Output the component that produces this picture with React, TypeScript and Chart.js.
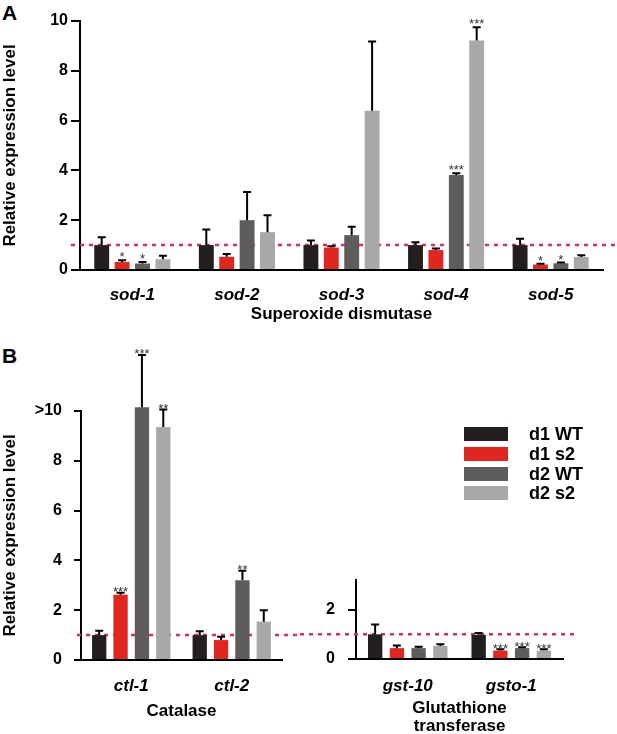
import { useEffect, useRef } from "react";
import { Chart, registerables } from "chart.js";
import type { Plugin } from "chart.js";

Chart.register(...registerables);

const FONT = '"Liberation Sans", Arial, Helvetica, sans-serif';

const seriesLabels = ["d1 WT", "d1 s2", "d2 WT", "d2 s2"];
const seriesColors = ["#231f20", "#e0261f", "#5f5c5c", "#a8a8a8"];

// A: superoxide dismutase
const sodGenes = ["sod-1", "sod-2", "sod-3", "sod-4", "sod-5"];
const sodD1WT = [1.0, 1.0, 1.0, 1.0, 1.0];
const sodD1S2 = [0.32, 0.53, 0.9, 0.8, 0.22];
const sodD2WT = [0.26, 2.0, 1.4, 3.82, 0.27];
const sodD2S2 = [0.43, 1.52, 6.4, 9.22, 0.52];
const sodErrD1WT = [0.32, 0.63, 0.18, 0.11, 0.26];
const sodErrD1S2 = [0.07, 0.11, 0.05, 0.06, 0.03];
const sodErrD2WT = [0.06, 1.13, 0.34, 0.07, 0.03];
const sodErrD2S2 = [0.14, 0.68, 2.78, 0.53, 0.07];
const sodSigD1S2 = ["*", "", "", "", "*"];
const sodSigD2WT = ["*", "", "", "***", "*"];
const sodSigD2S2 = ["", "", "", "***", ""];

// B: catalase
const ctlGenes = ["ctl-1", "ctl-2"];
const ctlD1WT = [1.0, 1.0];
const ctlD1S2 = [2.62, 0.8];
const ctlD2WT = [10.15, 3.2];
const ctlD2S2 = [9.36, 1.54];
const ctlErrD1WT = [0.17, 0.15];
const ctlErrD1S2 = [0.08, 0.13];
const ctlErrD2WT = [2.1, 0.38];
const ctlErrD2S2 = [0.7, 0.46];
const ctlSigD1S2 = ["***", ""];
const ctlSigD2WT = ["***", "**"];
const ctlSigD2S2 = ["**", ""];

// B: glutathione transferase
const gstGenes = ["gst-10", "gsto-1"];
const gstD1WT = [1.0, 0.98];
const gstD1S2 = [0.44, 0.34];
const gstD2WT = [0.44, 0.44];
const gstD2S2 = [0.53, 0.34];
const gstErrD1WT = [0.4, 0.07];
const gstErrD1S2 = [0.11, 0.05];
const gstErrD2WT = [0.06, 0.04];
const gstErrD2S2 = [0.07, 0.05];
const gstSigD1S2 = ["", "***"];
const gstSigD2WT = ["", "***"];
const gstSigD2S2 = ["", "***"];

const noSig = (n: number) => Array(n).fill("");

const errorBars = (drop: number): Plugin<"bar"> => ({
  id: "errorBars",
  afterDatasetsDraw(chart) {
    const { ctx } = chart;
    const y = chart.scales.y;
    ctx.save();
    chart.data.datasets.forEach((ds: any, i) => {
      chart.getDatasetMeta(i).data.forEach((bar: any, j) => {
        const top = y.getPixelForValue(ds.data[j] + ds.errors[j]);
        ctx.strokeStyle = "#000";
        ctx.lineWidth = 2;
        ctx.beginPath();
        ctx.moveTo(bar.x, bar.y);
        ctx.lineTo(bar.x, top);
        ctx.moveTo(bar.x - 4, top);
        ctx.lineTo(bar.x + 4, top);
        ctx.stroke();
        const s = ds.stars[j];
        if (s) {
          ctx.fillStyle = "#333";
          ctx.font = `13px ${FONT}`;
          ctx.textAlign = "center";
          ctx.textBaseline = "alphabetic";
          ctx.fillText(s, bar.x, top + drop);
        }
      });
    });
    ctx.restore();
  },
});

const refLine = (x1: number, x2: number): Plugin<"bar"> => ({
  id: "refLine",
  beforeDatasetsDraw(chart) {
    const { ctx } = chart;
    const yy = chart.scales.y.getPixelForValue(1);
    ctx.save();
    ctx.setLineDash([4, 5]);
    ctx.strokeStyle = "#e42a55";
    ctx.lineWidth = 2.5;
    ctx.beginPath();
    ctx.moveTo(x1, yy);
    ctx.lineTo(x2, yy);
    ctx.stroke();
    ctx.restore();
  },
});

type PanelProps = {
  left: number;
  top: number;
  width: number;
  height: number;
  labels: string[];
  series: number[][];
  errors: number[][];
  stars: string[][];
  yMax: number;
  yTicks: number[];
  overTen?: boolean;
  padTop: number;
  padRight: number;
  yWidth: number;
  xHeight: number;
  tickLength: number;
  tickPad: number;
  labelPad: number;
  catPct: number;
  barPct: number;
  title: string | string[];
  titlePad: number;
  yTitle: boolean;
  refFrom: number;
  refTo: number;
  starDrop: number;
};

function Panel(p: PanelProps) {
  const canvasRef = useRef<HTMLCanvasElement | null>(null);

  useEffect(() => {
    if (!canvasRef.current) return;
    const chart = new Chart(canvasRef.current, {
      type: "bar",
      data: {
        labels: p.labels,
        datasets: p.series.map((d, i) => ({
          label: seriesLabels[i],
          data: d,
          backgroundColor: seriesColors[i],
          borderWidth: 0,
          categoryPercentage: p.catPct,
          barPercentage: p.barPct,
          clip: false,
          errors: p.errors[i],
          stars: p.stars[i],
        })) as any,
      },
      options: {
        animation: false,
        responsive: true,
        maintainAspectRatio: false,
        layout: { padding: { top: p.padTop, right: p.padRight, left: 0, bottom: 0 } },
        plugins: {
          legend: { display: false },
          tooltip: { enabled: false },
        },
        scales: {
          x: {
            afterFit: (s: any) => {
              s.height = p.xHeight;
            },
            border: { color: "#000", width: 2 },
            grid: { display: false },
            ticks: {
              color: "#000",
              padding: p.labelPad,
              autoSkip: false,
              maxRotation: 0,
              font: { family: FONT, size: 17, weight: "bold", style: "italic" },
            },
            title: {
              display: true,
              text: p.title,
              color: "#000",
              font: { family: FONT, size: 17, weight: "bold", lineHeight: 1.1 },
              padding: { top: 0, bottom: p.titlePad },
            },
          },
          y: {
            min: 0,
            max: p.yMax,
            afterBuildTicks: (s: any) => {
              s.ticks = p.yTicks.map((v) => ({ value: v }));
            },
            afterFit: (s: any) => {
              s.width = p.yWidth;
            },
            border: { color: "#000", width: 2 },
            grid: {
              drawOnChartArea: false,
              color: "#000",
              lineWidth: 2,
              tickLength: p.tickLength,
            },
            ticks: {
              color: "#000",
              padding: p.tickPad,
              font: { family: FONT, size: 16, weight: "bold" },
              callback: (v: any) => (p.overTen && v === 10 ? ">10" : String(v)),
            },
            title: {
              display: p.yTitle,
              text: "Relative expression level",
              color: "#000",
              font: { family: FONT, size: 17, weight: "bold" },
              padding: { top: 0, bottom: 0 },
            },
          },
        },
      },
      plugins: [refLine(p.refFrom, p.refTo), errorBars(p.starDrop)],
    });
    return () => {
      chart.destroy();
    };
  }, []);

  return (
    <div
      style={{
        position: "absolute",
        left: p.left,
        top: p.top,
        width: p.width,
        height: p.height,
      }}
    >
      <canvas ref={canvasRef} />
    </div>
  );
}

const panelLetter = (text: string, top: number) => (
  <div
    style={{
      position: "absolute",
      left: 2,
      top,
      fontFamily: FONT,
      fontWeight: "bold",
      fontSize: 21,
      lineHeight: "21px",
      color: "#000",
    }}
  >
    {text}
  </div>
);

export default function App() {
  return (
    <div
      style={{
        position: "absolute",
        left: 0,
        top: 0,
        width: 617,
        height: 734,
        background: "#fff",
        overflow: "hidden",
      }}
    >
      {panelLetter("A", 2)}
      {panelLetter("B", 345)}
      <Panel
        left={0}
        top={0}
        width={617}
        height={330}
        labels={sodGenes}
        series={[sodD1WT, sodD1S2, sodD2WT, sodD2S2]}
        errors={[sodErrD1WT, sodErrD1S2, sodErrD2WT, sodErrD2S2]}
        stars={[noSig(5), sodSigD1S2, sodSigD2WT, sodSigD2S2]}
        yMax={10}
        yTicks={[0, 2, 4, 6, 8, 10]}
        padTop={21}
        padRight={14}
        yWidth={80}
        xHeight={60}
        tickLength={9}
        tickPad={3}
        labelPad={6.8}
        catPct={0.78}
        barPct={0.73}
        title="Superoxide dismutase"
        titlePad={6.8}
        yTitle={true}
        refFrom={71}
        refTo={617}
        starDrop={1}
      />
      <Panel
        left={0}
        top={330}
        width={300}
        height={404}
        labels={ctlGenes}
        series={[ctlD1WT, ctlD1S2, ctlD2WT, ctlD2S2]}
        errors={[ctlErrD1WT, ctlErrD1S2, ctlErrD2WT, ctlErrD2S2]}
        stars={[noSig(2), ctlSigD1S2, ctlSigD2WT, ctlSigD2S2]}
        yMax={10}
        yTicks={[0, 2, 4, 6, 8, 10]}
        overTen={true}
        padTop={81}
        padRight={18}
        yWidth={81}
        xHeight={74}
        tickLength={7}
        tickPad={12}
        labelPad={7.8}
        catPct={0.85}
        barPct={0.67}
        title="Catalase"
        titlePad={13.8}
        yTitle={true}
        refFrom={77}
        refTo={300}
        starDrop={3}
      />
      <Panel
        left={300}
        top={330}
        width={317}
        height={404}
        labels={gstGenes}
        series={[gstD1WT, gstD1S2, gstD2WT, gstD2S2]}
        errors={[gstErrD1WT, gstErrD1S2, gstErrD2WT, gstErrD2S2]}
        stars={[noSig(2), gstSigD1S2, gstSigD2WT, gstSigD2S2]}
        yMax={3.2}
        yTicks={[0, 2]}
        padTop={250}
        padRight={54}
        yWidth={56}
        xHeight={75}
        tickLength={8}
        tickPad={13}
        labelPad={8.8}
        catPct={0.84}
        barPct={0.66}
        title={["Glutathione", "transferase"]}
        titlePad={-2}
        yTitle={false}
        refFrom={0}
        refTo={277}
        starDrop={4}
      />
      {seriesLabels.map((name, i) => (
        <div
          key={name}
          style={{
            position: "absolute",
            left: 464,
            top: 427 + i * 19.8,
            height: 14,
            display: "flex",
            alignItems: "center",
          }}
        >
          <div style={{ width: 44, height: 14, background: seriesColors[i] }} />
          <span
            style={{
              marginLeft: 21,
              fontFamily: FONT,
              fontWeight: "bold",
              fontSize: 18,
              lineHeight: "14px",
              color: "#000",
              whiteSpace: "nowrap",
            }}
          >
            {name}
          </span>
        </div>
      ))}
    </div>
  );
}
